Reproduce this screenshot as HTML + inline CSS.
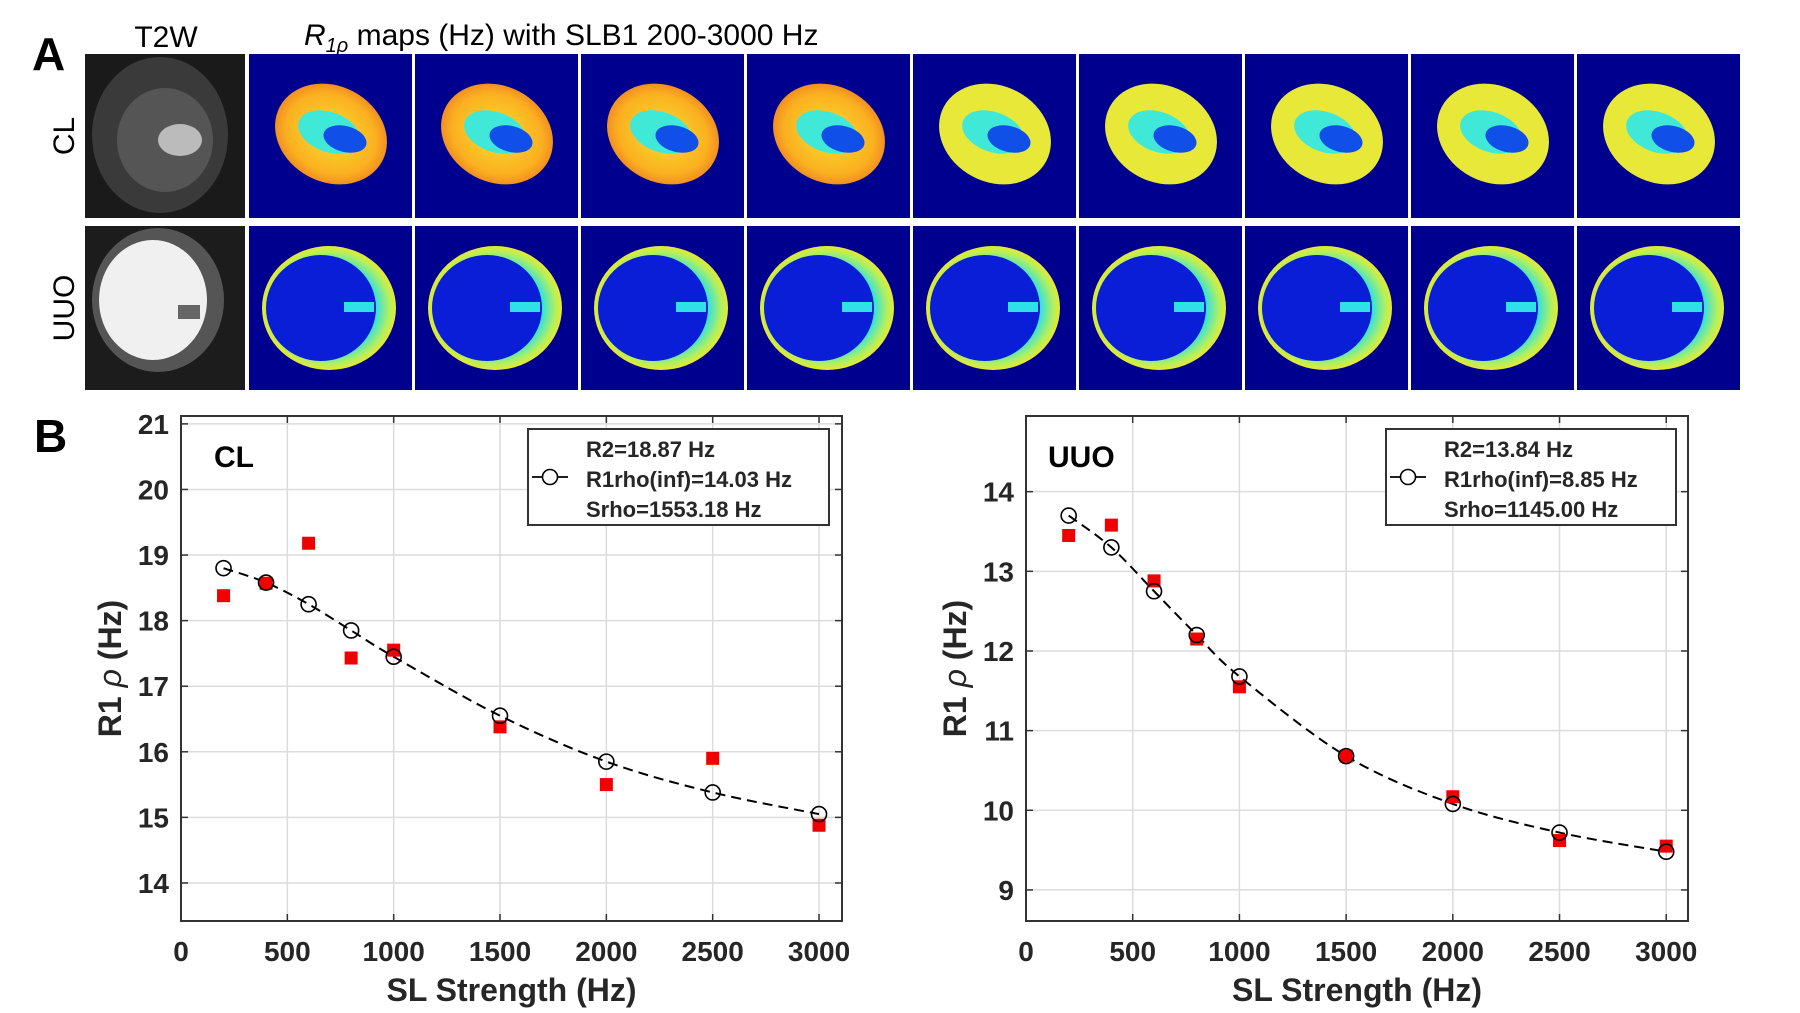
<!DOCTYPE html>
<html><head><meta charset="utf-8"><style>
html,body{margin:0;padding:0;background:#fff;}
body{width:1800px;height:1008px;position:relative;overflow:hidden;font-family:"Liberation Sans",sans-serif;}
</style></head><body>
<svg id="fig" width="1800" height="1008" xmlns="http://www.w3.org/2000/svg" font-family="Liberation Sans, sans-serif">
<defs>
<radialGradient id="gClOuter" cx="0.5" cy="0.5" r="0.5"><stop offset="0" stop-color="#f8e030"/><stop offset="0.8" stop-color="#fbb020"/><stop offset="1" stop-color="#f29020"/></radialGradient>
<radialGradient id="gUuoRim" cx="0.5" cy="0.5" r="0.5"><stop offset="0.7" stop-color="#30e0e0"/><stop offset="0.9" stop-color="#b0f060"/><stop offset="1" stop-color="#e8e830"/></radialGradient>
</defs>

<text x="32" y="70" font-size="46" font-weight="bold">A</text>
<text x="166" y="47" font-size="30" text-anchor="middle">T2W</text>
<text x="304" y="45" font-size="30"><tspan font-style="italic">R</tspan><tspan font-style="italic" font-size="20" dy="7">1ρ</tspan><tspan dy="-7"> maps (Hz) with SLB1 200-3000 Hz</tspan></text>
<text transform="translate(74,136) rotate(-90)" font-size="30" text-anchor="middle">CL</text>
<text transform="translate(74,308) rotate(-90)" font-size="30" text-anchor="middle">UUO</text>

<g>
<rect x="85" y="54" width="160" height="164" fill="#1a1a1a"/>
<ellipse cx="160" cy="135" rx="68" ry="78" fill="#3a3a3a"/>
<ellipse cx="165" cy="140" rx="48" ry="52" fill="#555"/>
<ellipse cx="180" cy="140" rx="22" ry="16" fill="#bbb"/>
</g>
<g>
<rect x="85" y="226" width="160" height="164" fill="#1c1c1c"/>
<ellipse cx="158" cy="300" rx="66" ry="72" fill="#555"/>
<ellipse cx="153" cy="300" rx="54" ry="60" fill="#f0f0f0"/>
<rect x="178" y="305" width="22" height="14" fill="#666"/>
</g>
<g id="maps"></g>

<g id="chart1"></g>
<g id="chart2"></g>
</svg>
<script>
const NS="http://www.w3.org/2000/svg";
function mk(tag,attrs,parent){const e=document.createElementNS(NS,tag);for(const k in attrs)e.setAttribute(k,attrs[k]);parent.appendChild(e);return e;}

const mapsG=document.getElementById('maps');
for(let i=0;i<9;i++){
  const x=249+i*166;
  const g1=mk('g',{},mapsG);
  
  
  mk('rect',{x:x,y:54,width:163,height:164,fill:'#00008f'},g1);
  mk('ellipse',{cx:x+82,cy:134,rx:58,ry:48,transform:`rotate(28 ${x+82} 134)`,fill:i<4?'url(#gClOuter)':'#e8e838'},g1);
  mk('ellipse',{cx:x+80,cy:132,rx:32,ry:20,transform:`rotate(20 ${x+80} 132)`,fill:'#40e8d8'},g1);
  mk('ellipse',{cx:x+96,cy:139,rx:22,ry:13,transform:`rotate(15 ${x+96} 139)`,fill:'#1050e8'},g1);
  const g2=mk('g',{},mapsG);
  
  
  mk('rect',{x:x,y:226,width:163,height:164,fill:'#00008f'},g2);
  mk('ellipse',{cx:x+80,cy:308,rx:67,ry:62,fill:'url(#gUuoRim)'},g2);
  mk('ellipse',{cx:x+72,cy:308,rx:55,ry:53,fill:'#0a1ed8'},g2);
  mk('rect',{x:x+95,y:302,width:30,height:10,fill:'#30e0e8'},g2);
}

// ---- data ----
const slStrength=[200,400,600,800,1000,1500,2000,2500,3000];
const clFit=[18.8,18.58,18.25,17.85,17.45,16.55,15.85,15.38,15.05];
const clMeasured=[18.38,18.57,19.18,17.43,17.55,16.38,15.5,15.9,14.88];
const uuoFit=[13.7,13.3,12.75,12.2,11.68,10.68,10.08,9.72,9.48];
const uuoMeasured=[13.45,13.58,12.88,12.15,11.55,10.68,10.17,9.62,9.55];
const xTicks=[0,500,1000,1500,2000,2500,3000];
const clYTicks=[14,15,16,17,18,19,20,21];
const uuoYTicks=[9,10,11,12,13,14];
const clLegend=["R2=18.87 Hz","R1rho(inf)=14.03 Hz","Srho=1553.18 Hz"];
const uuoLegend=["R2=13.84 Hz","R1rho(inf)=8.85 Hz","Srho=1145.00 Hz"];

function chart(gid,name,box,xlim,ylim,yTicks,fit,meas,title,legend,legBox,panelLabel){
  const g=document.getElementById(gid);
  
  
  const X=v=>box.x0+(v-xlim[0])/(xlim[1]-xlim[0])*(box.x1-box.x0);
  const Y=v=>box.y1-(v-ylim[0])/(ylim[1]-ylim[0])*(box.y1-box.y0);
  mk('rect',{x:box.x0,y:box.y0,width:box.x1-box.x0,height:box.y1-box.y0,fill:'#fff'},g);
  xTicks.forEach(t=>{
    const l=mk('line',{x1:X(t),x2:X(t),y1:box.y0,y2:box.y1,stroke:'#dcdcdc','stroke-width':1.5},g);
    
    
    mk('line',{x1:X(t),x2:X(t),y1:box.y1,y2:box.y1-7,stroke:'#333','stroke-width':1.5},g);
    mk('line',{x1:X(t),x2:X(t),y1:box.y0,y2:box.y0+7,stroke:'#333','stroke-width':1.5},g);
    const tx=mk('text',{x:X(t),y:box.y1+40,'font-size':28,'font-weight':'bold','text-anchor':'middle',fill:'#262626'},g);
    
    
    tx.textContent=t;
  });
  yTicks.forEach(t=>{
    const l=mk('line',{x1:box.x0,x2:box.x1,y1:Y(t),y2:Y(t),stroke:'#dcdcdc','stroke-width':1.5},g);
    
    
    mk('line',{x1:box.x0,x2:box.x0+7,y1:Y(t),y2:Y(t),stroke:'#333','stroke-width':1.5},g);
    mk('line',{x1:box.x1,x2:box.x1-7,y1:Y(t),y2:Y(t),stroke:'#333','stroke-width':1.5},g);
    const tx=mk('text',{x:box.x0-12,y:Y(t)+10,'font-size':28,'font-weight':'bold','text-anchor':'end',fill:'#262626'},g);
    
    
    tx.textContent=t;
  });
  const frame=mk('rect',{x:box.x0,y:box.y0,width:box.x1-box.x0,height:box.y1-box.y0,fill:'none',stroke:'#333','stroke-width':2},g);
  
  
  const P=slStrength.map((s,i)=>[X(s),Y(fit[i])]);
  let d=`M${P[0][0]},${P[0][1]}`;
  for(let i=0;i<P.length-1;i++){
    const p0=P[Math.max(0,i-1)],p1=P[i],p2=P[i+1],p3=P[Math.min(P.length-1,i+2)];
    d+=` C${p1[0]+(p2[0]-p0[0])/6},${p1[1]+(p2[1]-p0[1])/6} ${p2[0]-(p3[0]-p1[0])/6},${p2[1]-(p3[1]-p1[1])/6} ${p2[0]},${p2[1]}`;
  }
  const fl=mk('path',{d:d,fill:'none',stroke:'#000','stroke-width':2,'stroke-dasharray':'10,6'},g);
  
  
  slStrength.forEach((s,i)=>{
    const r=mk('rect',{x:X(s)-6.5,y:Y(meas[i])-6.5,width:13,height:13,fill:'#f00000'},g);
    
    
  });
  slStrength.forEach((s,i)=>{
    const c=mk('circle',{cx:X(s),cy:Y(fit[i]),r:7.5,fill:'none',stroke:'#000','stroke-width':1.6},g);
    
    
  });
  const tt=mk('text',{x:box.x0+(title==='CL'?33:22),y:box.y0+51,'font-size':30,'font-weight':'bold'},g);
  
  
  tt.textContent=title;
  const lg=mk('g',{},g);
  
  
  mk('rect',{x:legBox.x,y:legBox.y,width:legBox.w,height:96,fill:'#fff',stroke:'#333','stroke-width':2},lg);
  mk('line',{x1:legBox.x+4,x2:legBox.x+40,y1:legBox.y+48,y2:legBox.y+48,stroke:'#000','stroke-width':1.8},lg);
  mk('circle',{cx:legBox.x+22,cy:legBox.y+48,r:7.5,fill:'#fff',stroke:'#000','stroke-width':1.6},lg);
  legend.forEach((t,i)=>{
    const tx=mk('text',{x:legBox.x+58,y:legBox.y+28+i*30,'font-size':22,'font-weight':'bold',fill:'#262626'},lg);
    
    
    tx.textContent=t;
  });
  const xl=mk('text',{x:(box.x0+box.x1)/2,y:1001,'font-size':32,'font-weight':'bold','text-anchor':'middle',fill:'#262626'},g);
  
  
  xl.textContent='SL Strength (Hz)';
  const cy=(box.y0+box.y1)/2;
  const yl=mk('text',{transform:`translate(${box.x0-60},${cy}) rotate(-90)`,'font-size':32,'font-weight':'bold','text-anchor':'middle',fill:'#262626'},g);
  
  
  yl.innerHTML='R1<tspan font-style="italic" font-weight="normal"> ρ</tspan> (Hz)';
  if(panelLabel){
    const pl=mk('text',{x:34,y:452,'font-size':46,'font-weight':'bold'},g);
    
    
    pl.textContent=panelLabel;
  }
}
chart('chart1','cl-chart',{x0:181,x1:842,y0:416,y1:921},[0,3108],[13.42,21.12],clYTicks,clFit,clMeasured,'CL',clLegend,{x:528,y:429,w:301},'B');
chart('chart2','uuo-chart',{x0:1026,x1:1688,y0:416,y1:921},[0,3102],[8.61,14.95],uuoYTicks,uuoFit,uuoMeasured,'UUO',uuoLegend,{x:1386,y:429,w:290},null);
</script>
</body></html>
